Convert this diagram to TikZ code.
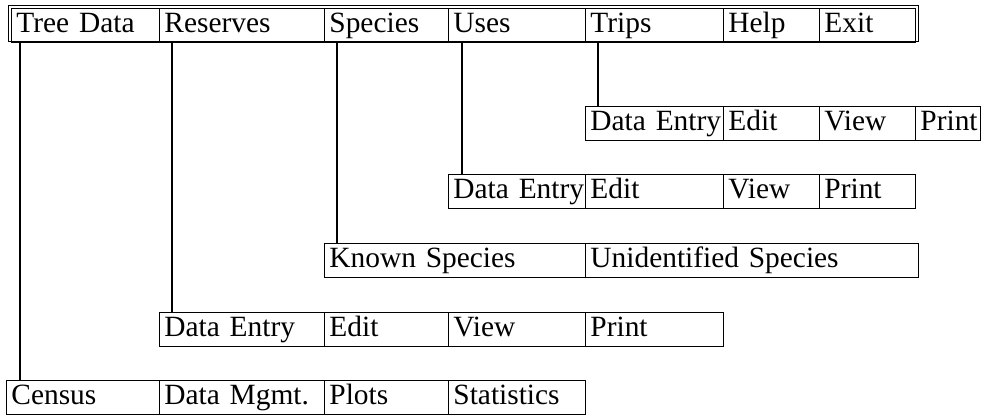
\documentclass[tikz,border=0pt]{standalone}
\usepackage{fontspec}
\setmainfont{Liberation Serif}
\begin{document}
\begin{tikzpicture}[x=1pt,y=-1pt,
  cell/.style 2 args={draw, line width=0.9pt, anchor=north west, inner xsep=5pt, inner ysep=0pt,
    minimum height=#2pt, text width=#1pt, align=left,
    font=\fontsize{29.4}{34}\selectfont, execute at begin node=\strut},
  row/.style={cell={#1}{34}},
  bar/.style={cell={#1}{30}},
  conn/.style={line width=1.2pt}]
\useasboundingbox (0,0) rectangle (989,415);

% menu bar with double frame
\draw[line width=0.9pt] (8,5) rectangle (918,41);
\node[bar=138] (td)  at (11,8)  {\mbox{Tree Data}};
\node[bar=155] (res) at (159,8) {\mbox{Reserves}};
\node[bar=114] (spe) at (324,8) {\mbox{Species}};
\node[bar=127] (use) at (448,8) {\mbox{Uses}};
\node[bar=128] (tri) at (585,8) {\mbox{Trips}};
\node[bar=86]  (hlp) at (723,8) {\mbox{Help}};
\node[bar=86]  (ext) at (819,8) {\mbox{Exit}};

% Trips submenu
\node[row=128] (t1) at (585,106) {\mbox{Data Entry}};
\node[row=86]  (t2) at (723,106) {\mbox{Edit}};
\node[row=86]  (t3) at (819,106) {\mbox{View}};
\node[row=55]  (t4) at (915,106) {\mbox{Print}};

% Uses submenu
\node[row=127] (u1) at (448,174) {\mbox{Data Entry}};
\node[row=128] (u2) at (585,174) {\mbox{Edit}};
\node[row=86]  (u3) at (723,174) {\mbox{View}};
\node[row=86]  (u4) at (819,174) {\mbox{Print}};

% Species submenu
\node[row=251] (s1) at (324,243) {\mbox{Known Species}};
\node[row=323] (s2) at (585,243) {\mbox{Unidentified Species}};

% Reserves submenu
\node[row=155] (r1) at (159,312) {\mbox{Data Entry}};
\node[row=114] (r2) at (324,312) {\mbox{Edit}};
\node[row=127] (r3) at (448,312) {\mbox{View}};
\node[row=128] (r4) at (585,312) {\mbox{Print}};

% Tree Data submenu
\node[row=143] (c1) at (6,380)   {\mbox{Census}};
\node[row=155] (c2) at (159,380) {\mbox{Data Mgmt.}};
\node[row=114] (c3) at (324,380) {\mbox{Plots}};
\node[row=127] (c4) at (448,380) {\mbox{Statistics}};

% connectors from menu items to their submenus
\draw[conn] ([xshift=9pt]td.south west)   -- ([xshift=9pt]td.south west |- c1.north);
\draw[conn] ([xshift=13pt]res.south west) -- ([xshift=13pt]res.south west |- r1.north);
\draw[conn] ([xshift=13pt]spe.south west) -- ([xshift=13pt]spe.south west |- s1.north);
\draw[conn] ([xshift=14pt]use.south west) -- ([xshift=14pt]use.south west |- u1.north);
\draw[conn] ([xshift=13pt]tri.south west) -- ([xshift=13pt]tri.south west |- t1.north);
\end{tikzpicture}
\end{document}
